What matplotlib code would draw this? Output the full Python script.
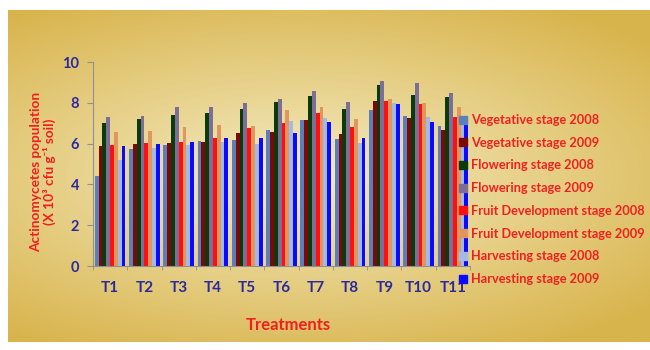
import matplotlib.pyplot as plt
from matplotlib.lines import Line2D
import numpy as np

treatments = ['T1', 'T2', 'T3', 'T4', 'T5', 'T6', 'T7', 'T8', 'T9', 'T10', 'T11']
series_names = ['Vegetative stage 2008', 'Vegetative stage 2009',
                'Flowering stage 2008', 'Flowering stage 2009',
                'Fruit Development stage 2008', 'Fruit Development stage 2009',
                'Harvesting stage 2008', 'Harvesting stage 2009']

veg_2008 = [4.4, 5.75, 5.95, 6.15, 6.2, 6.65, 7.18, 6.25, 7.65, 7.35, 6.85]
veg_2009 = [5.9, 5.98, 6.05, 6.1, 6.5, 6.58, 7.16, 6.47, 8.08, 7.27, 6.65]
flow_2008 = [7.0, 7.2, 7.4, 7.48, 7.7, 8.05, 8.32, 7.7, 8.87, 8.4, 8.3]
flow_2009 = [7.28, 7.37, 7.78, 7.78, 8.0, 8.2, 8.6, 8.05, 9.07, 8.95, 8.5]
fruit_2008 = [5.93, 6.05, 6.1, 6.28, 6.78, 7.0, 7.5, 6.8, 8.1, 7.92, 7.28]
fruit_2009 = [6.55, 6.6, 6.8, 6.9, 6.88, 7.65, 7.8, 7.2, 8.18, 8.0, 7.78]
harv_2008 = [5.2, 5.78, 5.93, 6.1, 6.0, 7.1, 7.24, 6.05, 8.0, 7.32, 7.15]
harv_2009 = [5.9, 5.98, 6.06, 6.28, 6.28, 6.5, 7.07, 6.28, 7.92, 7.07, 6.9]

series = [veg_2008, veg_2009, flow_2008, flow_2009,
          fruit_2008, fruit_2009, harv_2008, harv_2009]
colors = ['#5a7fba', '#7a0a0a', '#0b3a0b', '#7b6f98',
          '#ff1010', '#e0965c', '#a4b9e6', '#0a0aff']

plt.rcParams['font.family'] = ['Lato', 'DejaVu Sans']
plt.rcParams['font.weight'] = 'bold'

fig = plt.figure(figsize=(6.5, 3.5), dpi=100)

# gold background panel with a soft radial light spot
bg = fig.add_axes([8 / 650, 8 / 350, 1 - 8 / 650, 1 - 18 / 350], zorder=0)
yy, xx = np.mgrid[0:1:200j, 0:1:300j]
r = np.sqrt(((xx - 0.45) / 0.75) ** 2 + ((yy - 0.5) / 0.6) ** 2)
t = np.clip(r, 0, 1)[..., None]
light = np.array([245, 236, 196]) / 255
dark = np.array([216, 180, 76]) / 255
img = light * (1 - t) + dark * t
bg.imshow(img, aspect='auto', extent=[0, 1, 0, 1])
bg.set_axis_off()

ax = fig.add_axes([93 / 650, 84 / 350, 377 / 650, 204 / 350], zorder=1)
ax.patch.set_visible(False)

x = np.arange(len(treatments))
w = 0.112
for i, (vals, name, c) in enumerate(zip(series, series_names, colors)):
    ax.bar(x + (i - 3.5) * w, vals, width=w, color=c, label=name)

ax.set_xlim(-0.5, len(treatments) - 0.5)
ax.set_ylim(0, 10)
ax.set_yticks(range(0, 11, 2))
ax.set_xticks(x, treatments)
ax.set_xticks(np.arange(-0.5, len(treatments), 1), minor=True)
ax.tick_params(axis='x', which='major', length=0, pad=11,
               labelsize=11, labelcolor='#2a2aa0')
ax.tick_params(axis='x', which='minor', length=3, color='#909090')
ax.tick_params(axis='y', length=4, color='#909090', pad=6,
               labelsize=10.5, labelcolor='#2a2aa0')
for side in ['top', 'right']:
    ax.spines[side].set_visible(False)
for side in ['left', 'bottom']:
    ax.spines[side].set_color('#909090')

fig.text(43 / 650, 1 - 172 / 350,
         'Actinomycetes population\n(X 10³ cfu g⁻¹ soil)',
         rotation=90, ha='center', va='center', color='#f02020',
         fontsize=9.8, fontweight='bold', linespacing=1.15)
fig.text(288 / 650, 1 - 325 / 350, 'Treatments', ha='center', va='center',
         color='#f02020', fontsize=12, fontweight='bold')

handles = [Line2D([], [], linestyle='none', marker='s', markersize=6,
                  markerfacecolor=c, markeredgecolor=c) for c in colors]
leg = fig.legend(handles, series_names, loc='upper left',
                 bbox_to_anchor=(459 / 650, 1 - 114 / 350),
                 frameon=False, fontsize=9.2, handlelength=0.7,
                 handletextpad=0.25, labelspacing=0.84,
                 borderaxespad=0, borderpad=0)
for txt in leg.get_texts():
    txt.set_color('#f02020')

fig.savefig('out.png', dpi=100)
